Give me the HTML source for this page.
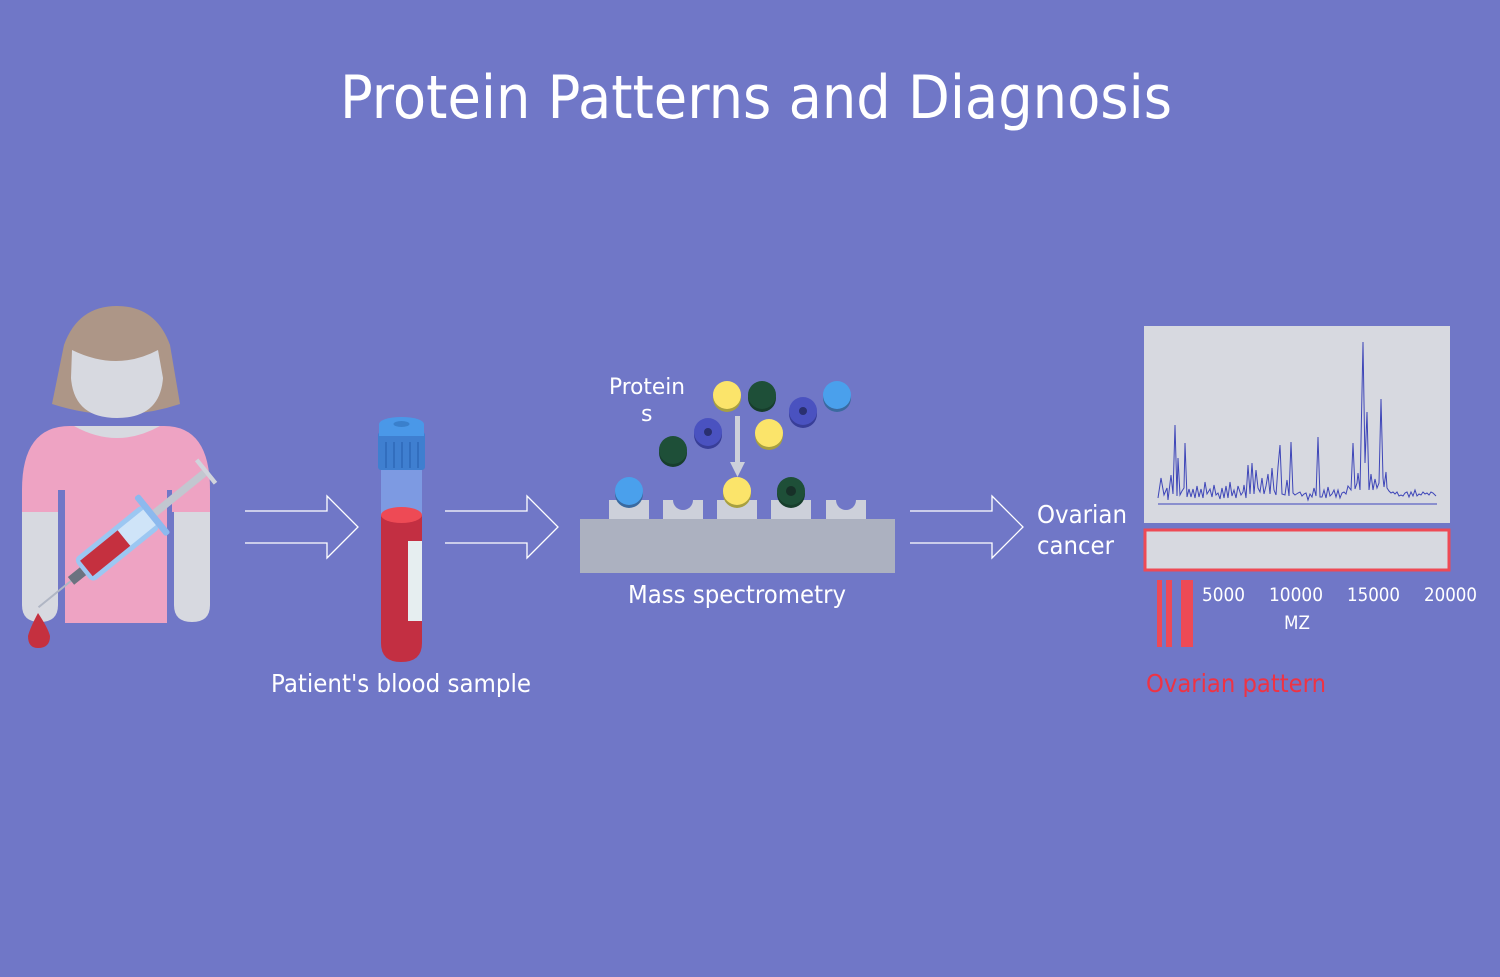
<!DOCTYPE html>
<html><head><meta charset="utf-8"><style>html,body{margin:0;padding:0;background:#7077c7}svg{display:block}text{font-family:"DejaVu Sans","Liberation Sans",sans-serif;fill:#fff}</style></head>
<body>
<svg width="1500" height="977" viewBox="0 0 1500 977" xmlns="http://www.w3.org/2000/svg">
<rect width="1500" height="977" fill="#7077c7"/>
<text x="340" y="118" font-size="60" textLength="832" lengthAdjust="spacingAndGlyphs">Protein Patterns and Diagnosis</text>

<!-- person -->
<path d="M52,404 L64,345 Q78,306 117,306 Q156,306 170,345 L180,404 Q117,425 52,404Z" fill="#ad9687"/>
<path d="M72,350 Q117,372 158,350 L163,378 Q160,418 117,418 Q74,418 71,378Z" fill="#d7d9e0"/>
<path d="M22,490 Q22,426 70,426 L164,426 Q210,426 210,490 L210,512 L22,512Z" fill="#eea3c3"/>
<path d="M74,426 Q117,450 160,426Z" fill="#d7d9e0"/>
<path d="M22,512 L58,512 L58,605 Q58,622 40,622 Q22,622 22,605Z" fill="#d7d9e0"/>
<path d="M174,512 L210,512 L210,605 Q210,622 192,622 Q174,622 174,605Z" fill="#d7d9e0"/>
<rect x="65" y="490" width="102" height="133" fill="#eea3c3"/>
<rect x="58" y="490" width="7" height="135" fill="#7077c7"/>
<rect x="167" y="490" width="5" height="135" fill="#7077c7"/>
<!-- syringe -->
<g transform="translate(124,538) rotate(-39) scale(1.1,1.25)">
<line x1="-100" y1="0" x2="-60" y2="0" stroke="#b0b6c4" stroke-width="1.6"/>
<rect x="-62" y="-4" width="14" height="8" fill="#6b7380"/>
<rect x="-48" y="-12" width="80" height="24" rx="5" fill="#9cc7f2"/>
<rect x="-44" y="-8" width="44" height="16" fill="#c5303f"/>
<rect x="0" y="-8" width="30" height="16" fill="#cfe4f8"/>
<rect x="30" y="-20" width="6" height="40" rx="2" fill="#8cb9ee"/>
<rect x="36" y="-3" width="58" height="6" fill="#c2c7d0"/>
<rect x="94" y="-12" width="4" height="24" fill="#d0d4dc"/>
</g>
<path d="M38,613 Q30,628 28,636 Q28,648 38,648 Q50,648 50,636 Q48,628 38,613Z" fill="#c5303f"/>

<!-- arrows -->
<g fill="none" stroke="#fff" stroke-width="1.3">
<path d="M245,511 H327 V496 L358,527 L327,558 V543 H245"/>
<path d="M445,511 H527 V496 L558,527 L527,558 V543 H445"/>
<path d="M910,511 H992 V496 L1023,527 L992,558 V543 H910"/>
</g>

<!-- tube -->
<rect x="381" y="470" width="41" height="50" fill="#7d9ae2"/>
<path d="M381,515 L422,515 L422,643 Q422,662 401,662 Q381,662 381,643Z" fill="#c32f42"/>
<ellipse cx="401.5" cy="515" rx="20.5" ry="8" fill="#ee4a55"/>
<rect x="408" y="541" width="14" height="80" fill="#e6eef0"/>
<rect x="378" y="432" width="47" height="38" rx="3" fill="#3f7fd0"/>
<g stroke="#2f68b8" stroke-width="1.5"><line x1="386" y1="442" x2="386" y2="468"/><line x1="394" y1="442" x2="394" y2="468"/><line x1="402" y1="442" x2="402" y2="468"/><line x1="410" y1="442" x2="410" y2="468"/><line x1="418" y1="442" x2="418" y2="468"/></g>
<rect x="379" y="424" width="45" height="12" fill="#4a98e8"/>
<ellipse cx="401.5" cy="424" rx="22.5" ry="7" fill="#4a98e8"/>
<ellipse cx="401.5" cy="424" rx="8" ry="3" fill="#3a80cc"/>
<text x="271" y="692" font-size="25" textLength="260" lengthAdjust="spacingAndGlyphs">Patient's blood sample</text>

<!-- mass spec -->
<rect x="580" y="519" width="315" height="54" fill="#acb1c0"/>
<g fill="#cdd0da">
<rect x="609" y="500" width="40" height="19"/><rect x="663" y="500" width="40" height="19"/><rect x="717" y="500" width="40" height="19"/><rect x="771" y="500" width="40" height="19"/><rect x="826" y="500" width="40" height="19"/>
</g>
<g fill="#7077c7"><path d="M673,500 A10,10 0 0 0 693,500Z"/><path d="M836,500 A10,10 0 0 0 856,500Z"/></g>
<g>
<circle cx="629" cy="494" r="14" fill="#3a6aa0"/><circle cx="629" cy="491" r="14" fill="#4aa0ec"/>
<circle cx="737" cy="494" r="14" fill="#a8a040"/><circle cx="737" cy="491" r="14" fill="#fbe46a"/>
<circle cx="791" cy="494" r="14" fill="#173e2c"/><circle cx="791" cy="491" r="14" fill="#1e4f38"/><circle cx="791" cy="491" r="5" fill="#173028"/>
<circle cx="727" cy="398" r="14" fill="#a8a040"/><circle cx="727" cy="395" r="14" fill="#fbe46a"/>
<circle cx="762" cy="398" r="14" fill="#173e2c"/><circle cx="762" cy="395" r="14" fill="#1e4f38"/>
<circle cx="837" cy="398" r="14" fill="#3a6aa0"/><circle cx="837" cy="395" r="14" fill="#4aa0ec"/>
<circle cx="803" cy="414" r="14" fill="#383e98"/><circle cx="803" cy="411" r="14" fill="#4a52c0"/><circle cx="803" cy="411" r="4" fill="#2a3070"/>
<circle cx="769" cy="436" r="14" fill="#a8a040"/><circle cx="769" cy="433" r="14" fill="#fbe46a"/>
<circle cx="708" cy="435" r="14" fill="#383e98"/><circle cx="708" cy="432" r="14" fill="#4a52c0"/><circle cx="708" cy="432" r="4" fill="#2a3070"/>
<circle cx="673" cy="453" r="14" fill="#173e2c"/><circle cx="673" cy="450" r="14" fill="#1e4f38"/>
</g>
<rect x="735" y="416" width="5" height="47" fill="#cdd0da"/>
<path d="M730,462 L745,462 L737.5,477Z" fill="#cdd0da"/>
<text x="609" y="394" font-size="22" textLength="76" lengthAdjust="spacingAndGlyphs">Protein</text>
<text x="641" y="421" font-size="22">s</text>
<text x="628" y="603" font-size="25" textLength="218" lengthAdjust="spacingAndGlyphs">Mass spectrometry</text>

<text x="1037" y="523" font-size="25" textLength="90" lengthAdjust="spacingAndGlyphs">Ovarian</text>
<text x="1037" y="554" font-size="25" textLength="77" lengthAdjust="spacingAndGlyphs">cancer</text>

<!-- spectrum -->
<rect x="1144" y="326" width="306" height="197" fill="#d7d9e0"/>
<line x1="1158" y1="504" x2="1437" y2="504" stroke="#7077c7" stroke-width="1.5"/>
<polyline fill="none" stroke="#3e46b8" stroke-width="1" points="1158,498 1161,478 1164,495 1167,488 1168,500 1171,475 1173,494 1175,425 1177,496 1178,458 1180,495 1182,491 1184,488 1185,443 1187,497 1189,489 1191,497 1193,489 1195,498 1197,486 1199,497 1201,489 1203,498 1205,482 1207,494 1210,489 1212,497 1214,485 1216,495 1218,493 1220,499 1222,488 1224,498 1226,486 1228,498 1230,482 1232,496 1234,490 1236,498 1238,486 1241,495 1243,492 1244,485 1246,498 1248,465 1250,494 1252,463 1254,494 1256,470 1258,488 1260,492 1262,478 1264,494 1266,486 1268,474 1270,494 1272,468 1274,490 1276,495 1278,467 1280,445 1282,494 1285,495 1287,480 1289,496 1291,442 1293,493 1295,495 1298,493 1300,492 1302,496 1304,494 1306,493 1308,500 1310,494 1312,497 1314,488 1316,496 1318,437 1320,497 1322,497 1324,490 1326,498 1328,487 1330,496 1332,494 1334,490 1336,497 1338,490 1340,498 1342,493 1344,492 1346,494 1348,486 1351,490 1353,443 1355,489 1357,483 1358,473 1360,490 1363,342 1365,463 1367,412 1369,490 1371,474 1373,490 1375,479 1377,488 1379,483 1381,399 1383,478 1384,487 1386,472 1387,488 1389,491 1391,493 1393,492 1395,494 1397,492 1399,496 1401,495 1403,496 1405,493 1407,492 1409,497 1411,492 1413,496 1415,490 1417,496 1419,494 1421,495 1423,492 1425,494 1427,493 1429,495 1431,492 1433,493 1436,496"/>
<rect x="1145" y="530" width="304" height="40" fill="#d7d9e0" stroke="#ee4a55" stroke-width="3"/>
<g fill="#ee4a55"><rect x="1157" y="580" width="5" height="67"/><rect x="1166" y="580" width="6" height="67"/><rect x="1181" y="580" width="12" height="67"/></g>
<g font-size="19"><text x="1202" y="601" textLength="43" lengthAdjust="spacingAndGlyphs">5000</text><text x="1269" y="601" textLength="54" lengthAdjust="spacingAndGlyphs">10000</text><text x="1347" y="601" textLength="53" lengthAdjust="spacingAndGlyphs">15000</text><text x="1424" y="601" textLength="53" lengthAdjust="spacingAndGlyphs">20000</text><text x="1284" y="629" textLength="26" lengthAdjust="spacingAndGlyphs">MZ</text></g>
<text x="1146" y="692" font-size="25" textLength="180" lengthAdjust="spacingAndGlyphs" style="fill:#ee3344">Ovarian pattern</text>
</svg>
</body></html>
